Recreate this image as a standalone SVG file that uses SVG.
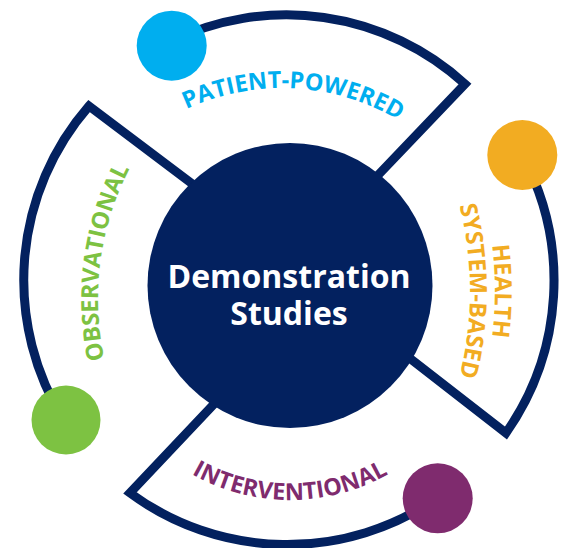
<svg xmlns="http://www.w3.org/2000/svg" width="564" height="548" viewBox="0 0 564 548">
  <defs>
    <style>
      .seg { fill: none; stroke: #03215F; stroke-width: 9; stroke-linejoin: miter; stroke-miterlimit: 10; }
      .lbl { font-family: "Open Sans", "Liberation Sans", sans-serif; font-weight: 700; font-size: 23.5px; }
      .center-text { font-family: "Open Sans", "Liberation Sans", sans-serif; font-weight: 700; font-size: 32px; fill: #FFFFFF; text-anchor: middle; }
    </style>
    <path id="arc-top" d="M 89.5 194.7 A 227 227 0 0 1 486 215.5"/>
    <path id="arc-right-outer" d="M 407.3 50 A 375 375 0 0 1 407.3 532"/>
    <path id="arc-right-inner" d="M 388.1 66 A 350 350 0 0 1 388.1 516"/>
    <path id="arc-left" d="M 199.8 517.3 A 285 285 0 0 1 262.6 40.7"/>
    <path id="arc-bottom" d="M 116.8 400 A 200 200 0 0 0 463.2 400"/>
  </defs>
  <rect width="564" height="548" fill="#FFFFFF"/>

  <g id="connectors">
    <path class="seg" d="M 360 194 L 465 84 A 265 265 0 0 0 169.8 41.9"/>
    <path class="seg" d="M 215 201 L 89 106 A 265 265 0 0 0 64.3 421"/>
    <path class="seg" d="M 385 339 L 506 433 A 265 265 0 0 0 522.2 155"/>
    <path class="seg" d="M 232 385 L 130 493 A 265 265 0 0 0 437.3 497.9"/>
  </g>

  <g id="node-center">
    <circle cx="290" cy="285.5" r="142.5" fill="#03215F"/>
    <text class="center-text" x="289" y="288">Demonstration</text>
    <text class="center-text" x="289" y="325">Studies</text>
  </g>

  <g id="node-patient-powered">
    <circle cx="171.7" cy="45.7" r="35" fill="#00AEEF"/>
    <text class="lbl" fill="#00AEEF"><textPath href="#arc-top" startOffset="50%" text-anchor="middle">PATIENT-POWERED</textPath></text>
  </g>

  <g id="node-health-system-based">
    <circle cx="522.3" cy="155" r="35" fill="#F2AC22"/>
    <text class="lbl" fill="#F2AC22"><textPath href="#arc-right-outer" startOffset="50%" text-anchor="middle">HEALTH</textPath></text>
    <text class="lbl" fill="#F2AC22"><textPath href="#arc-right-inner" startOffset="50%" text-anchor="middle">SYSTEM-BASED</textPath></text>
  </g>

  <g id="node-interventional">
    <circle cx="437.7" cy="498.3" r="35" fill="#7F2B6E"/>
    <text class="lbl" fill="#7F2B6E"><textPath href="#arc-bottom" startOffset="50%" text-anchor="middle">INTERVENTIONAL</textPath></text>
  </g>

  <g id="node-observational">
    <circle cx="66" cy="420" r="34.5" fill="#7DC242"/>
    <text class="lbl" fill="#7DC242"><textPath href="#arc-left" startOffset="50%" text-anchor="middle">OBSERVATIONAL</textPath></text>
  </g>
</svg>
